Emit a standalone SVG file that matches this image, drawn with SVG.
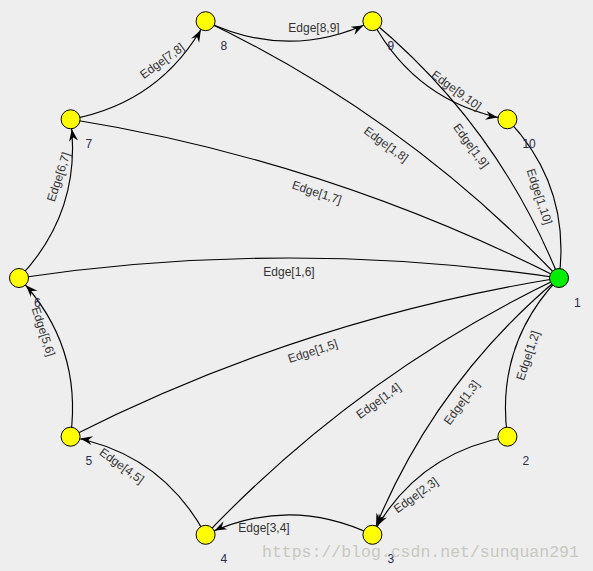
<svg xmlns="http://www.w3.org/2000/svg" width="593" height="571" viewBox="0 0 593 571">
<style>
.e{fill:none;stroke:#000;stroke-width:1.15}
.el{font-family:"Liberation Sans",Arial,sans-serif;font-size:12px;fill:#333;text-anchor:middle;dominant-baseline:central}
.n{stroke:#000;stroke-width:1}
.y{fill:#ffff00}
.g{fill:#00ee00}
.nl{font-family:"Liberation Sans",Arial,sans-serif;font-size:12px;fill:#2b2b4f}
.wm{font-family:"Liberation Mono","DejaVu Sans Mono",monospace;font-size:16.5px;fill:#c8c8c1}
</style>
<defs>
<marker id="arr" markerUnits="userSpaceOnUse" viewBox="-14 -7 28 14" markerWidth="28" markerHeight="14" refX="10" refY="0" orient="auto" overflow="visible">
<path d="M0,0 L-12,-4.5 L-8,0 L-12,4.5 Z" fill="#000"/>
</marker>
</defs>
<rect width="593" height="571" fill="#eeeeee"/>
<g id="edges">
<path class="e" d="M559,278 Q495.2,345 507.4,436.7"/>
<path class="e" d="M559,278 Q433.3,382.9 372.4,534.8" marker-end="url(#arr)"/>
<path class="e" d="M559,278 Q358.8,374 205.6,534.8"/>
<path class="e" d="M559,278 Q302.4,319.3 70.6,436.7"/>
<path class="e" d="M559,278 Q289,238 19,278"/>
<path class="e" d="M559,278 Q327.2,160.6 70.6,119.3"/>
<path class="e" d="M559,278 Q405.8,117.2 205.6,21.2"/>
<path class="e" d="M559,278 Q498.1,126.1 372.4,21.2"/>
<path class="e" d="M559,278 Q571.2,186.3 507.4,119.3"/>
<path class="e" d="M507.4,436.7 Q416.4,453.4 372.4,534.8" marker-end="url(#arr)"/>
<path class="e" d="M372.4,534.8 Q289,494.8 205.6,534.8" marker-end="url(#arr)"/>
<path class="e" d="M205.6,534.8 Q161.6,453.4 70.6,436.7" marker-end="url(#arr)"/>
<path class="e" d="M70.6,436.7 Q82.8,345 19,278" marker-end="url(#arr)"/>
<path class="e" d="M19,278 Q82.8,211 70.6,119.3" marker-end="url(#arr)"/>
<path class="e" d="M70.6,119.3 Q161.6,102.6 205.6,21.2" marker-end="url(#arr)"/>
<path class="e" d="M205.6,21.2 Q289,61.2 372.4,21.2" marker-end="url(#arr)"/>
<path class="e" d="M372.4,21.2 Q416.4,102.6 507.4,119.3" marker-end="url(#arr)"/>
<text class="el" transform="translate(528,355.5) rotate(-72)">Edge[1,2]</text>
<text class="el" transform="translate(461.5,402.5) rotate(-54)">Edge[1,3]</text>
<text class="el" transform="translate(378.5,400.8) rotate(-36)">Edge[1,4]</text>
<text class="el" transform="translate(312.8,351.2) rotate(-18)">Edge[1,5]</text>
<text class="el" transform="translate(289,271.5)">Edge[1,6]</text>
<text class="el" transform="translate(316.8,192.5) rotate(18)">Edge[1,7]</text>
<text class="el" transform="translate(386.1,144.3) rotate(36)">Edge[1,8]</text>
<text class="el" transform="translate(471,145.8) rotate(54)">Edge[1,9]</text>
<text class="el" transform="translate(539.4,196.6) rotate(72)">Edge[1,10]</text>
<text class="el" transform="translate(415.9,495.2) rotate(-36)">Edge[2,3]</text>
<text class="el" transform="translate(264,528.3)">Edge[3,4]</text>
<text class="el" transform="translate(121.7,465.8) rotate(36)">Edge[4,5]</text>
<text class="el" transform="translate(43.3,331.6) rotate(72)">Edge[5,6]</text>
<text class="el" transform="translate(58.7,176.9) rotate(-72)">Edge[6,7]</text>
<text class="el" transform="translate(162.1,60.9) rotate(-36)">Edge[7,8]</text>
<text class="el" transform="translate(314,27.7)">Edge[8,9]</text>
<text class="el" transform="translate(456.3,90.3) rotate(36)">Edge[9,10]</text>
</g>
<g id="node1"><circle class="n g" cx="559" cy="278" r="9.5"/><text class="nl" x="574" y="306.5">1</text></g>
<g id="node2"><circle class="n y" cx="507.4" cy="436.7" r="9.5"/><text class="nl" x="522.4" y="465.2">2</text></g>
<g id="node3"><circle class="n y" cx="372.4" cy="534.8" r="9.5"/><text class="nl" x="387.4" y="563.3">3</text></g>
<g id="node4"><circle class="n y" cx="205.6" cy="534.8" r="9.5"/><text class="nl" x="220.6" y="563.3">4</text></g>
<g id="node5"><circle class="n y" cx="70.6" cy="436.7" r="9.5"/><text class="nl" x="85.6" y="465.2">5</text></g>
<g id="node6"><circle class="n y" cx="19" cy="278" r="9.5"/><text class="nl" x="34" y="306.5">6</text></g>
<g id="node7"><circle class="n y" cx="70.6" cy="119.3" r="9.5"/><text class="nl" x="85.6" y="147.8">7</text></g>
<g id="node8"><circle class="n y" cx="205.6" cy="21.2" r="9.5"/><text class="nl" x="220.6" y="49.7">8</text></g>
<g id="node9"><circle class="n y" cx="372.4" cy="21.2" r="9.5"/><text class="nl" x="387.4" y="49.7">9</text></g>
<g id="node10"><circle class="n y" cx="507.4" cy="119.3" r="9.5"/><text class="nl" x="522.4" y="147.8">10</text></g>
<text class="wm" x="262" y="557">https://blog.csdn.net/sunquan291</text>
</svg>
